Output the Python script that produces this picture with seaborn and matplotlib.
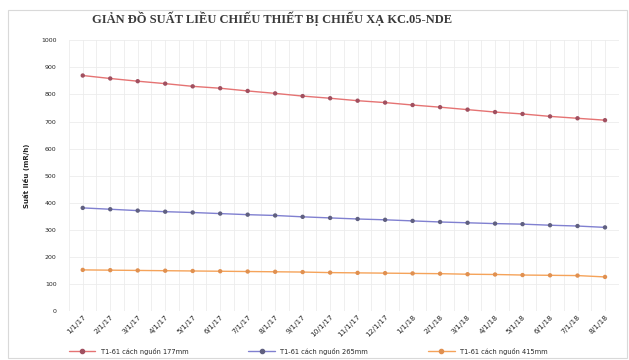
import matplotlib
matplotlib.use("Agg")
import matplotlib.pyplot as plt
from matplotlib.lines import Line2D
from matplotlib.ticker import MultipleLocator
import seaborn as sns
import pandas as pd

dates = ["1/1/17", "2/1/17", "3/1/17", "4/1/17", "5/1/17", "6/1/17", "7/1/17",
         "8/1/17", "9/1/17", "10/1/17", "11/1/17", "12/1/17", "1/1/18", "2/1/18",
         "3/1/18", "4/1/18", "5/1/18", "6/1/18", "7/1/18", "8/1/18"]

dose_177 = [870, 859, 849, 840, 830, 823, 813, 804, 794, 786,
            777, 770, 761, 753, 744, 735, 728, 719, 712, 705]
dose_265 = [381, 376, 371, 367, 364, 360, 356, 353, 348, 344,
            340, 337, 333, 329, 326, 323, 321, 317, 314, 309]
dose_415 = [152, 151, 150, 149, 148, 147, 146, 145, 144, 142,
            141, 140, 139, 138, 136, 135, 133, 132, 131, 126]

series_names = ["T1-61 cách nguồn 177mm", "T1-61 cách nguồn 265mm", "T1-61 cách nguồn 415mm"]
series_values = [dose_177, dose_265, dose_415]
line_colors = ["#e57373", "#8080d0", "#f5a35a"]
marker_colors = ["#a05060", "#606080", "#e09050"]

frames = []
for name, vals in zip(series_names, series_values):
    frames.append(pd.DataFrame({"Ngày": dates, "Suất liều": vals, "Vị trí": name}))
df = pd.concat(frames, ignore_index=True)

sns.set_theme(style="whitegrid")
plt.rcParams["font.family"] = ["DejaVu Sans"]

fig = plt.figure(figsize=(6.29, 3.6), dpi=100)
ax = fig.add_axes([0.1097, 0.136, 0.874, 0.752])

sns.lineplot(data=df, x="Ngày", y="Suất liều", hue="Vị trí",
             palette=dict(zip(series_names, line_colors)),
             sort=False, linewidth=1.0, ax=ax, legend=False)

# markers drawn over each line
for name, mc in zip(series_names, marker_colors):
    sub = df[df["Vị trí"] == name]
    sns.scatterplot(data=sub, x="Ngày", y="Suất liều", color=mc, s=10,
                    edgecolor="none", ax=ax, legend=False, zorder=3)

ax.set_ylim(0, 1000)
ax.set_yticks(range(0, 1001, 100))
ax.set_xlim(-0.5, len(dates) - 0.5)
ax.xaxis.set_minor_locator(MultipleLocator(0.5))
ax.tick_params(axis="y", labelsize=4.5, pad=9, length=0)
ax.tick_params(axis="x", which="both", labelsize=5.3, rotation=45, length=0, pad=2)
for lbl in ax.get_xticklabels():
    lbl.set_ha("right")
    lbl.set_rotation_mode("anchor")
ax.set_xlabel("")
ax.set_ylabel("Suất liều (mR/h)", fontsize=5, fontweight="bold", labelpad=8)
ax.grid(True, which="both", color="#ececec", linewidth=0.6)
for s in ax.spines.values():
    s.set_visible(False)

fig.text(0.433, 0.947, "GIẢN ĐỒ SUẤT LIỀU CHIẾU THIẾT BỊ CHIẾU XẠ KC.05-NDE",
         ha="center", va="center", fontsize=9.0, fontweight="bold",
         family="Liberation Serif", color="#3a3a3a")

handles = [Line2D([0], [0], color=lc, marker="o", markersize=3,
                  markerfacecolor=mc, markeredgecolor=mc, linewidth=1.0)
           for lc, mc in zip(line_colors, marker_colors)]
fig.legend(handles, series_names, loc="lower center", ncol=3,
           bbox_to_anchor=(0.49, -0.002), frameon=False, fontsize=4.8,
           columnspacing=9, handlelength=4)

# outer frame around the chart area
fig.patches.append(plt.Rectangle((0.012, 0.005), 0.985, 0.967, transform=fig.transFigure,
                                 fill=False, edgecolor="#d9d9d9", linewidth=0.8))

fig.savefig("out.png", dpi=100)
